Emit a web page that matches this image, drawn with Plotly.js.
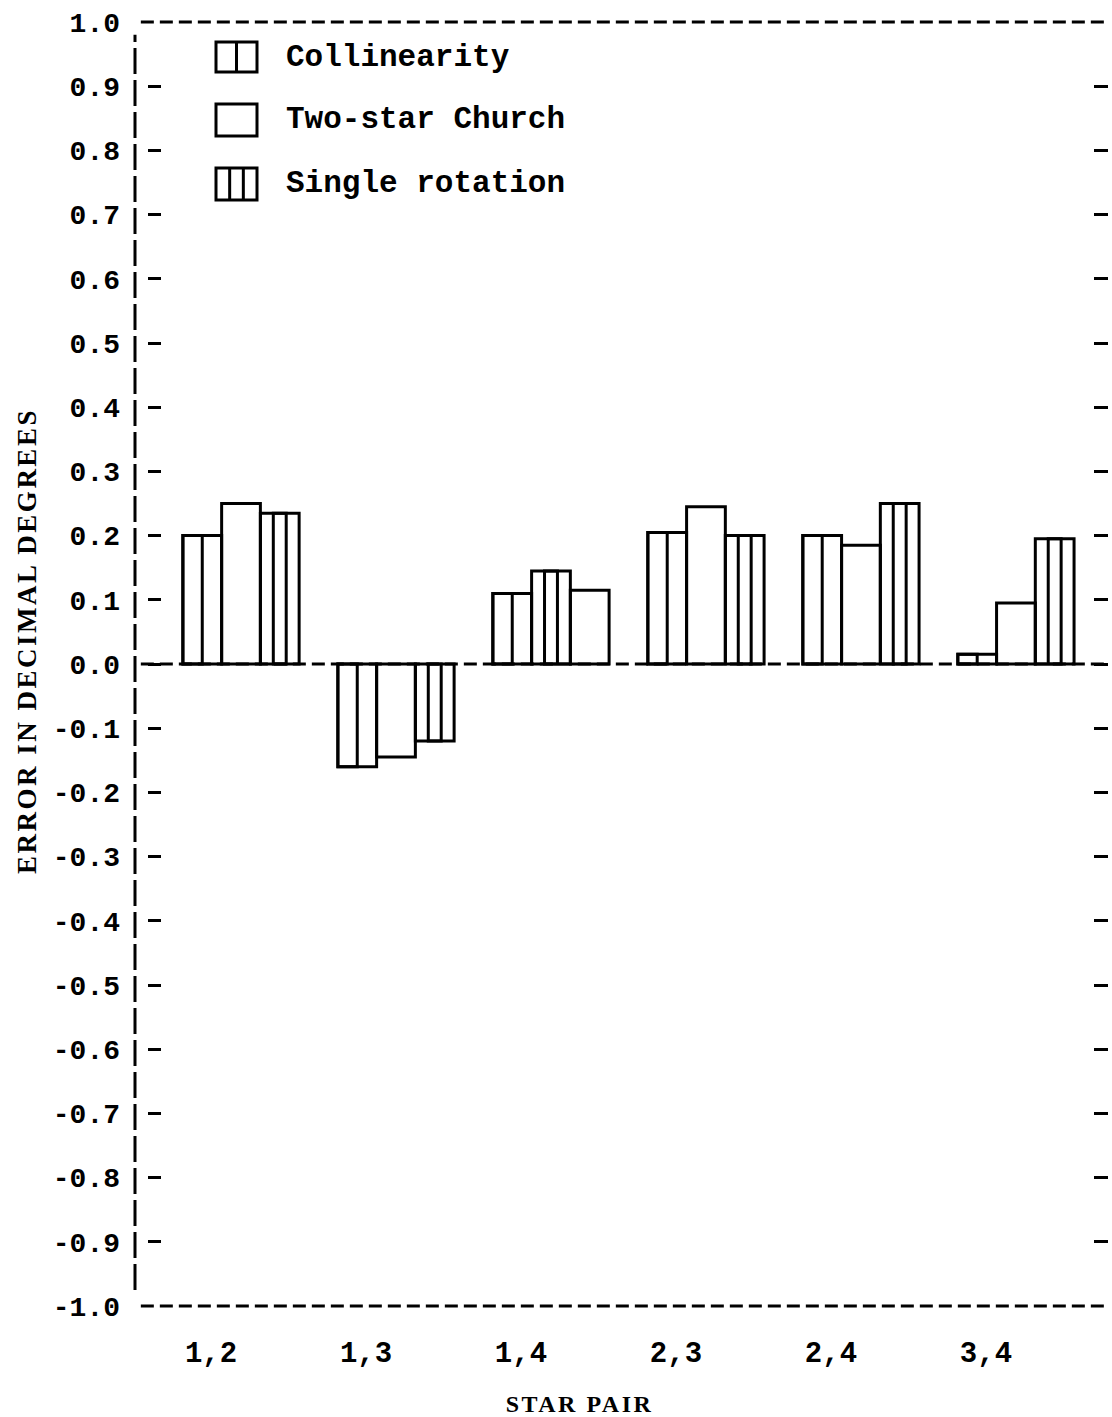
<!DOCTYPE html>
<html>
<head>
<meta charset="utf-8">
<script src="https://cdn.plot.ly/plotly-3.0.1.min.js"></script>
<style>
html,body{margin:0;padding:0;background:#fff;}
#chart{width:1112px;height:1417px;}
.xtitle,.ytitle{letter-spacing:2.5px;}
</style>
</head>
<body>
<div id="chart"></div>
<script>
// ---- data ----
const starPairs = ['1,2', '1,3', '1,4', '2,3', '2,4', '3,4'];
const seriesNames = ['Collinearity', 'Two-star Church', 'Single rotation'];
const collinearity   = [0.200, -0.160, 0.110, 0.205, 0.200, 0.015];
const twoStarChurch  = [0.250, -0.145, 0.115, 0.245, 0.185, 0.095];
const singleRotation = [0.235, -0.120, 0.145, 0.200, 0.250, 0.195];
// order of the three bars inside each group, as drawn in the original
const collinearityOrder   = [0, 0, 0, 0, 0, 0];
const twoStarChurchOrder  = [1, 1, 2, 1, 1, 1];
const singleRotationOrder = [2, 2, 1, 2, 2, 2];
const yTickValues = [-1.0, -0.9, -0.8, -0.7, -0.6, -0.5, -0.4, -0.3, -0.2, -0.1, 0.0,
                     0.1, 0.2, 0.3, 0.4, 0.5, 0.6, 0.7, 0.8, 0.9, 1.0];
const yTickLabels = ['-1.0', '-0.9', '-0.8', '-0.7', '-0.6', '-0.5', '-0.4', '-0.3', '-0.2', '-0.1', '0.0',
                     '0.1', '0.2', '0.3', '0.4', '0.5', '0.6', '0.7', '0.8', '0.9', '1.0'];
const xTitle = 'STAR PAIR';
const yTitle = 'ERROR IN DECIMAL DEGREES';

// ---- styling / geometry ----
const W = 1112, H = 1417;
const M = {l: 135, r: 4, t: 22, b: 111};
const SUB = 0.25;          // width of one bar, in category units
const GROUP_LEFT = -0.375; // left edge of a group relative to its category
const BLACK = '#000';
const MONO = 'Liberation Mono';
const SERIF = 'Liberation Serif';
const outline = {color: 'rgba(0,0,0,0)', line: {color: BLACK, width: 3}};

function offsets(order, extra) {
  return order.map(s => GROUP_LEFT + SUB * s + (extra || 0));
}
function barTrace(name, y, order, extra, width) {
  return {
    type: 'bar', name: name, x: starPairs, y: y,
    offset: offsets(order, extra), width: width,
    marker: outline, showlegend: false, hoverinfo: 'x+y+name'
  };
}

const traces = [
  barTrace(seriesNames[0], collinearity, collinearityOrder, 0, SUB),
  barTrace(seriesNames[0], collinearity, collinearityOrder, 0, SUB / 2),
  barTrace(seriesNames[1], twoStarChurch, twoStarChurchOrder, 0, SUB),
  barTrace(seriesNames[2], singleRotation, singleRotationOrder, 0, SUB),
  barTrace(seriesNames[2], singleRotation, singleRotationOrder, SUB / 3, SUB / 3),
  {type: 'scatter', x: [], y: [], yaxis: 'y2', showlegend: false, hoverinfo: 'skip'},
  {type: 'scatter', x: [], y: [], yaxis: 'y3', showlegend: false, hoverinfo: 'skip'}
];

// pixel -> paper helpers for the hand-drawn legend
const PW = W - M.l - M.r, PH = H - M.t - M.b;
const px = v => (v - M.l) / PW;
const py = v => (H - M.b - v) / PH;

const dash = {color: BLACK, width: 3, dash: '13px,6px'};
const shapes = [
  {type: 'line', xref: 'paper', yref: 'paper', x0: 0.006, x1: 1.0, y0: 1, y1: 1, line: dash},
  {type: 'line', xref: 'paper', yref: 'paper', x0: 0.006, x1: 1.0, y0: 0, y1: 0, line: dash},
  {type: 'line', xref: 'paper', yref: 'y', x0: 0.006, x1: 0.997, y0: 0, y1: 0, line: dash},
  {type: 'line', xref: 'paper', yref: 'y', x0: 0, x1: 0, y0: -0.975, y1: 0.98,
   line: {color: BLACK, width: 3, dash: '26px,6px'}}
];

// legend icons
const boxes = [[42, 72], [104, 136], [168, 200]];
const bx0 = 216, bx1 = 257;
boxes.forEach(b => shapes.push({type: 'rect', xref: 'paper', yref: 'paper',
  x0: px(bx0), x1: px(bx1), y0: py(b[1]), y1: py(b[0]), line: {color: BLACK, width: 3}}));
const vline = (x, b) => ({type: 'line', xref: 'paper', yref: 'paper', x0: px(x), x1: px(x),
  y0: py(b[1]), y1: py(b[0]), line: {color: BLACK, width: 3}});
shapes.push(vline((bx0 + bx1) / 2, boxes[0]));
shapes.push(vline(bx0 + (bx1 - bx0) / 3, boxes[2]));
shapes.push(vline(bx0 + 2 * (bx1 - bx0) / 3, boxes[2]));

const annotations = seriesNames.map((n, i) => ({
  xref: 'paper', yref: 'paper', x: px(284), y: py((boxes[i][0] + boxes[i][1]) / 2),
  xanchor: 'left', yanchor: 'middle', showarrow: false, text: n,
  font: {family: MONO, size: 31, weight: 'bold', color: BLACK}
}));

const tickAxis = {
  overlaying: 'y', range: [-1, 1], tickmode: 'array', tickvals: yTickValues,
  ticks: 'inside', ticklen: 13, tickwidth: 3, tickcolor: BLACK,
  showticklabels: false, showgrid: false, zeroline: false, showline: false, fixedrange: true
};

const layout = {
  width: W, height: H, margin: M,
  paper_bgcolor: '#fff', plot_bgcolor: '#fff',
  showlegend: false, barmode: 'overlay',
  font: {family: MONO, color: BLACK, size: 28, weight: 'bold'},
  xaxis: {
    type: 'category', range: [-0.684, 5.594],
    showline: false, ticks: '', showgrid: false, zeroline: false,
    tickfont: {family: MONO, size: 29, weight: 'bold', color: BLACK},
    ticklabelstandoff: 26, ticklabelshift: -30,
    title: {text: xTitle, standoff: 40, font: {family: SERIF, size: 24, weight: 'bold', color: BLACK}}
  },
  yaxis: {
    range: [-1, 1], tickmode: 'array', tickvals: yTickValues, ticktext: yTickLabels,
    ticks: '', showgrid: false, zeroline: false, showline: false, ticklabelstandoff: 14,
    tickfont: {family: MONO, size: 28, weight: 'bold', color: BLACK},
    title: {text: yTitle, standoff: 8, font: {family: SERIF, size: 27, weight: 'bold', color: BLACK}}
  },
  yaxis2: Object.assign({}, tickAxis, {anchor: 'free', side: 'left', position: 0.012}),
  yaxis3: Object.assign({}, tickAxis, {anchor: 'x', side: 'right', ticklen: 14}),
  shapes: shapes,
  annotations: annotations
};

Plotly.newPlot('chart', traces, layout, {staticPlot: true, displayModeBar: false}).then(gd => {
  // nudge the axis titles to where the original places them (off-centre)
  const shift = (sel, dx, dy) => {
    const el = gd.querySelector(sel);
    if (!el) return;
    const t = el.getAttribute('transform') || '';
    el.setAttribute('transform', 'translate(' + dx + ',' + dy + ') ' + t);
  };
  shift('.xtitle', -42, 0);
  shift('.ytitle', 0, -23);
});
</script>
</body>
</html>
